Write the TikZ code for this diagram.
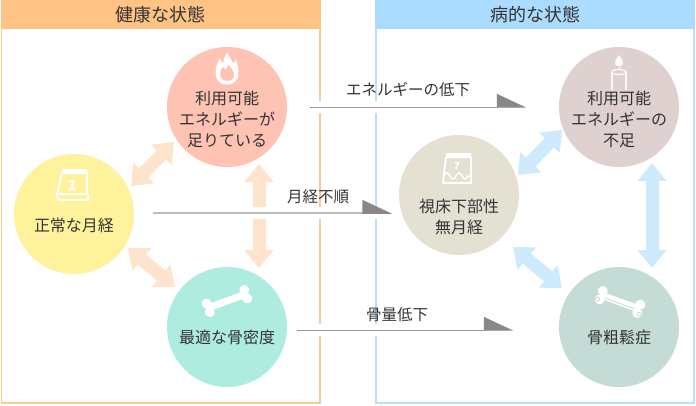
\documentclass[tikz,border=0pt]{standalone}
\usepackage{fontspec}
\setmainfont{Noto Sans CJK JP}
\newfontfamily\dejavu{DejaVu Sans}
\usetikzlibrary{arrows.meta,calc}
\definecolor{orhead}{HTML}{FFC386}
\definecolor{orborder}{HTML}{FFC890}
\definecolor{bluehead}{HTML}{ABDCFE}
\definecolor{blueborder}{HTML}{B8E1FF}
\definecolor{peach}{HTML}{FEE4CC}
\definecolor{lblue}{HTML}{CDEBFC}
\definecolor{cfire}{HTML}{FFC3B3}
\definecolor{cyel}{HTML}{FFF29C}
\definecolor{cteal}{HTML}{AEECE0}
\definecolor{cbeige}{HTML}{E4E1D3}
\definecolor{cbrown}{HTML}{DFD1CF}
\definecolor{cgg}{HTML}{C5DCD6}
\definecolor{txt}{HTML}{333333}
\definecolor{lgray}{HTML}{999999}
\definecolor{lgray2}{HTML}{BBBBBB}
\definecolor{ahead}{HTML}{888888}
\tikzset{
  circ/.style={circle, minimum size=120pt, inner sep=0pt, outer sep=0pt, draw=none},
  ctext/.style={font=\fontsize{16}{21}\selectfont, text=txt, align=center, inner sep=0pt},
  hdr/.style={font=\fontsize{18}{20}\selectfont, text=txt, inner sep=0pt},
  lbl/.style={font=\fontsize{15.5}{18}\selectfont, text=txt, inner sep=0pt},
  fat/.style={line width=13pt, {Triangle[length=18pt,width=28pt]}-{Triangle[length=18pt,width=28pt]}},
  halo/.style={draw=white, line width=12pt},
  thinarrow/.style={line width=1pt, -{Triangle[harpoon,length=28pt,width=26pt,color=ahead]}},
  iconline/.style={draw=white, line width=1.8pt, line join=round}
}
\begin{document}
\begin{tikzpicture}[x=1pt,y=-1pt]
\useasboundingbox (0,0) rectangle (696,405);
\fill[white] (0,0) rectangle (696,405);
% panels
\draw[orborder, line width=1.5pt] (1.5,0) rectangle (320,403);
\fill[orhead] (0.75,0) rectangle (320.75,29);
\draw[blueborder, line width=1.5pt] (376,0) rectangle (694,403);
\fill[bluehead] (375.25,0) rectangle (694.75,29);
\node[hdr] (lhdr) at (160,14.5) {健康な状態};
\node[hdr] (rhdr) at (535,14.5) {病的な状態};
% circles
\node[circ, fill=cfire] (fire) at (227,107) {};
\node[circ, fill=cyel] (yel) at (74,214) {};
\node[circ, fill=cteal] (teal) at (227,327) {};
\node[circ, fill=cbrown] (brown) at (619,107) {};
\node[circ, fill=cbeige] (beige) at (459,195) {};
\node[circ, fill=cgg] (gg) at (619,327) {};
% arrow ends next to the circles
\coordinate (a1s) at ($(yel)+(57,-28)$);
\coordinate (a1e) at ($(fire)+(-53,35)$);
\coordinate (a2s) at ($(yel)+(54,34)$);
\coordinate (a2e) at ($(teal)+(-52,-40)$);
\coordinate (a3s) at ($(fire)+(32,57)$);
\coordinate (a3e) at ($(teal)+(32,-59)$);
\coordinate (b1s) at ($(beige)+(59,-20)$);
\coordinate (b1e) at ($(brown)+(-57,23)$);
\coordinate (b2s) at ($(beige)+(54,52)$);
\coordinate (b2e) at ($(gg)+(-57,-39)$);
\coordinate (b3s) at ($(brown)+(33,56)$);
\coordinate (b3e) at ($(gg)+(33,-59)$);
% fat arrows
\draw[fat, peach] (a1s) -- (a1e);
\draw[fat, peach] (a2s) -- (a2e);
\draw[fat, peach] (a3s) -- (a3e);
\draw[fat, lblue] (b1s) -- (b1e);
\draw[fat, lblue] (b2s) -- (b2e);
\draw[fat, lblue] (b3s) -- (b3e);
% thin connectors
\coordinate (l1a) at ($(fire.east)+(23,0)$);
\coordinate (l1b) at ($(brown.west)+(-33,0)$);
\coordinate (l2a) at ($(yel.east)+(19,-1)$);
\coordinate (l2b) at ($(l2a -| beige.west)+(-7,0)$);
\coordinate (l3a) at ($(teal.east)+(10,3)$);
\coordinate (l3b) at ($(l3a -| gg.west)+(-46,0)$);
\draw[halo] (l1a) -- (l1b);
\draw[halo] (l2a) -- (l2b);
\draw[halo] (l3a) -- (l3b);
\draw[thinarrow, lgray] (l1a) -- (l1b);
\draw[thinarrow, lgray2, line width=1.5pt] (l2a) -- (l2b);
\draw[thinarrow, lgray] (l3a) -- (l3b);
\node[lbl] (lab1) at (408,90) {エネルギーの低下};
\node[lbl] (lab2) at (318,197) {月経不順};
\node[lbl] (lab3) at (397,315) {骨量低下};
% circle texts
\node[ctext] (firet) at (227,119) {利用可能\\エネルギーが\\足りている};
\node[ctext] (yelt) at (74,225) {正常な月経};
\node[ctext] (tealt) at (227,337) {最適な骨密度};
\node[ctext] (brownt) at (619,119) {利用可能\\エネルギーの\\不足};
\node[ctext] (beiget) at (459,217) {視床下部性\\無月経};
\node[ctext] (ggt) at (619,337) {骨粗鬆症};
% icon: flame
\begin{scope}[shift={(227,69.5)}, xscale=1.27]
\fill[white, even odd rule]
 (0,15) .. controls (-7,15) and (-9,9) .. (-9,3)
 .. controls (-9,-3) and (-7,-7) .. (-6,-11)
 .. controls (-4,-8) .. (-3,-6)
 .. controls (-3,-11) and (-1,-14) .. (0,-17)
 .. controls (2,-12) and (4,-9) .. (5,-6)
 .. controls (6,-7) .. (6.5,-10)
 .. controls (9,-5) and (9,-1) .. (9,4)
 .. controls (9,10) and (6,15) .. (0,15) -- cycle
 (0,11.5) .. controls (-4,11.5) and (-5.5,8) .. (-5.5,4)
 .. controls (-5.5,1) and (-4,-1) .. (-3,-3)
 .. controls (-2,-1) .. (-1,0)
 .. controls (0,-2) .. (1,-5)
 .. controls (3,-2) and (5.5,1) .. (5.5,5)
 .. controls (5.5,9) and (4,11.5) .. (0,11.5) -- cycle;
\end{scope}
% icon: calendar 1
\draw[iconline] (62,173) -- (87,173) -- (87,194) -- (57,194) -- cycle;
\fill[white] (62,168.5) rectangle (87,173.5);
\draw[iconline] (56,194) -- (59,200) -- (88,200) -- (88,194);
\node[font=\dejavu\bfseries\itshape\fontsize{14}{14}\selectfont, text=white, inner sep=0pt] (one) at (72.5,185) {1};
% icon: calendar ?
\draw[iconline] (446,157) -- (471,157) -- (471,183) -- (443,183) -- cycle;
\fill[white] (446,153) rectangle (471,157.5);
\draw[white, line width=1.5pt] (443,176) .. controls (446,172) and (448,172) .. (450,176)
  .. controls (452,180) and (454,180) .. (456,176) .. controls (458,172) and (460,172) .. (462,176)
  .. controls (464,180) and (466,180) .. (468,176) -- (471,176);
\node[font=\dejavu\bfseries\fontsize{10}{10}\selectfont, text=white, inner sep=0pt] (qm) at (457,166) {?};
% icon: candle
\fill[white, opacity=0.9] (619,55) .. controls (622,59) and (623,61) .. (623,63) .. controls (623,65.5) and (621,66.5) .. (619,66.5) .. controls (617,66.5) and (615,65.5) .. (615,63) .. controls (615,61) and (616,59) .. (619,55) -- cycle;
\draw[white, line width=1pt] (619,66.5) -- (619,70);
\draw[white, line width=1.3pt, opacity=0.9] (612,72) -- (612,90) (626,72) -- (626,90);
\draw[white, line width=1.3pt, opacity=0.9] (619,72) ellipse [x radius=7, y radius=2.5];
% icon: bone (teal)
\begin{scope}[shift={(227,301)}, rotate=20]
\fill[white] (-19,-3.5) rectangle (19,3.5);
\fill[white] (-20,-4.5) circle (5) (-20,4.5) circle (5) (20,-4.5) circle (5) (20,4.5) circle (5);
\end{scope}
% icon: bone (osteoporosis)
\begin{scope}[shift={(620,302)}, rotate=-20]
\fill[white] (-19,-3.5) rectangle (19,3.5);
\fill[white] (-20,-4.5) circle (5) (-20,4.5) circle (5) (20,-4.5) circle (5) (20,4.5) circle (5);
\draw[cgg, line width=0.8pt] (-16,1.5) -- (16,1.5) (-22,5) circle (2) (22,5) circle (2);
\end{scope}
\end{tikzpicture}
\end{document}
